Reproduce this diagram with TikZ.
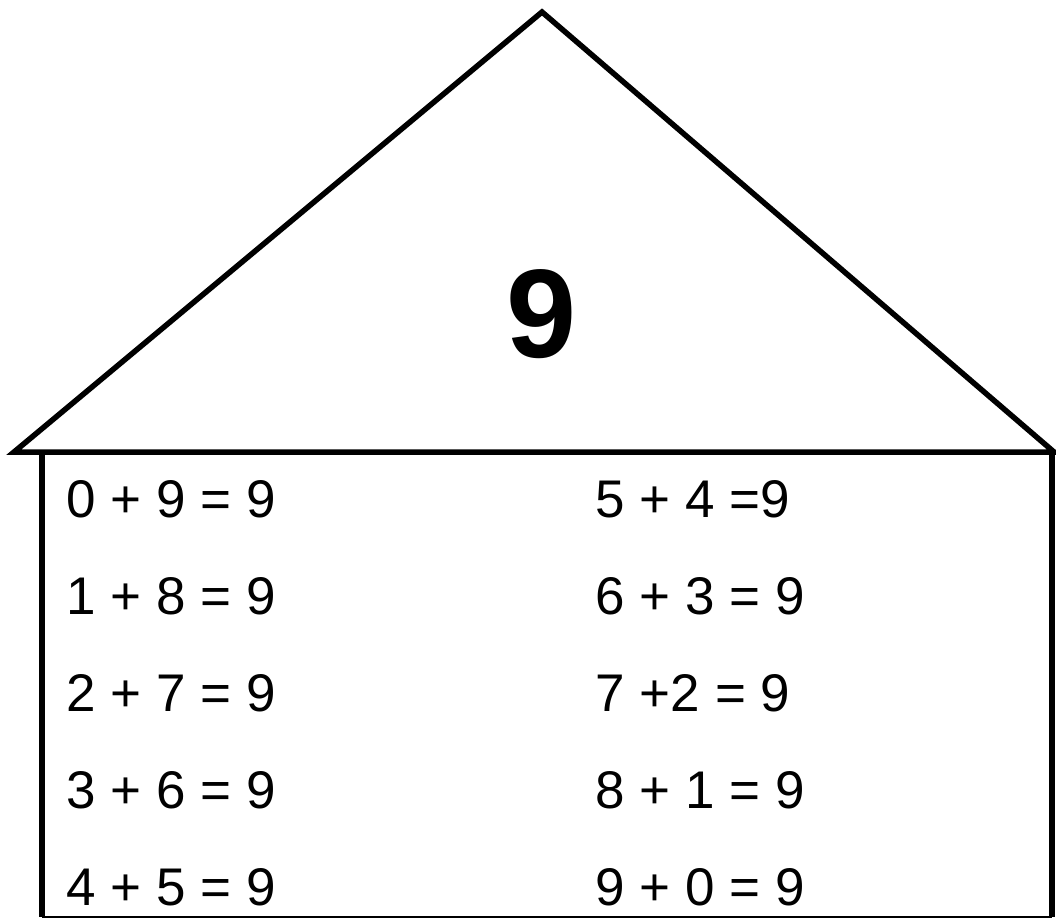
\documentclass[tikz,border=0pt]{standalone}
\usepackage{fontspec}
\setmainfont{Liberation Sans}
\begin{document}
\begin{tikzpicture}[x=1pt, y=-1pt, line width=5.5pt, every node/.style={inner sep=0pt},
  sum/.style={anchor=base west, font=\fontsize{53}{60}\selectfont}]
\useasboundingbox (0,0) rectangle (1056,920);
\path
(542,12) coordinate (T)
(14,452) coordinate (L)
(1054,452) coordinate (R)
(42,452) coordinate (A)
(1052,452) coordinate (B)
(42,917) coordinate (C)
(1052,917) coordinate (D);
\draw (L)--(T)--(R)--cycle;
\draw (A)--(C);
\draw (B)--(D);
\draw[line width=2pt] (C)--(D);
\node[anchor=base, font=\fontsize{126}{130}\bfseries\selectfont] (N) at (542,357) {9};
\foreach \p/\q [count=\i from 0] in {0 + 9 = 9/5 + 4 =9, 1 + 8 = 9/6 + 3 = 9, 2 + 7 = 9/7 +2 = 9, 3 + 6 = 9/8 + 1 = 9, 4 + 5 = 9/9 + 0 = 9}
{
  \node[sum] (l\i) at (64,517+97*\i) {\p};
  \node[sum] (r\i) at (593,517+97*\i) {\q};
}
\end{tikzpicture}
\end{document}
